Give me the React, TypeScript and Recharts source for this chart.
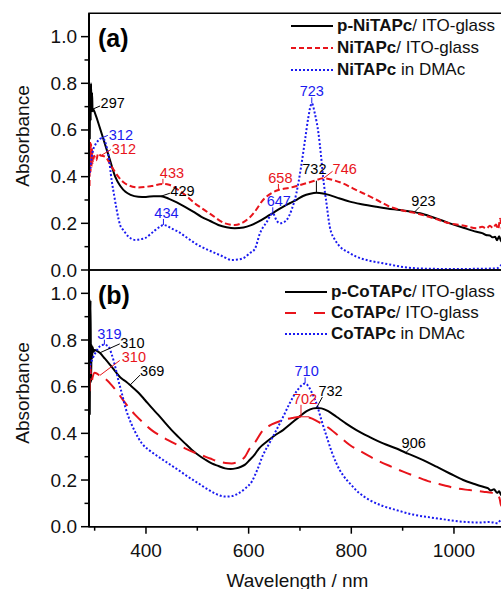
import React from 'react'
import { LineChart, Line, XAxis, YAxis, ReferenceArea, ReferenceDot } from 'recharts'

const FONT = '"Liberation Sans", Arial, Helvetica, sans-serif'
const RED = '#e8141b'
const BLUE = '#1a1af0'

const X_DOMAIN: [number, number] = [289, 1100]
const Y_DOMAIN: [number, number] = [0, 1.1]
const xTicks = [300, 400, 500, 600, 700, 800, 900, 1000, 1100]
const xTickLabels = [400, 600, 800, 1000]
const yTicks = [0, 0.1, 0.2, 0.3, 0.4, 0.5, 0.6, 0.7, 0.8, 0.9, 1.0]
const yTickLabels = [0, 0.2, 0.4, 0.6, 0.8, 1.0]

// [wavelength nm, absorbance]
const pNiTAPcFilm = [
  [290.5, 0.56], [291.5, 0.79], [292.3, 0.64], [293, 0.8], [294, 0.68], [295, 0.76], [296, 0.68], [297, 0.69],
  [301, 0.67], [310, 0.61], [320, 0.54], [330, 0.47], [340, 0.4], [350, 0.36], [360, 0.335], [370, 0.322],
  [385, 0.314], [400, 0.313], [415, 0.316], [429, 0.316], [445, 0.305], [460, 0.29], [476, 0.271],
  [492, 0.25], [508, 0.228], [525, 0.21], [541, 0.193], [557, 0.183], [573, 0.179], [590, 0.182],
  [605, 0.192], [620, 0.208], [641, 0.236], [660, 0.262], [680, 0.286], [695, 0.303], [706, 0.317],
  [720, 0.327], [732, 0.331], [745, 0.328], [758, 0.321], [775, 0.308], [797, 0.293], [820, 0.282],
  [849, 0.271], [870, 0.264], [895, 0.257], [923, 0.248], [934, 0.243], [960, 0.225], [992, 0.2],
  [1020, 0.18], [1044, 0.164], [1055, 0.158], [1062, 0.15], [1070, 0.148], [1075, 0.14], [1080, 0.142],
  [1084, 0.128], [1088, 0.145], [1092, 0.122], [1096, 0.14], [1100, 0.13],
]
const niTAPcFilm = [
  [290, 0.36], [291, 0.55], [292, 0.42], [293, 0.54], [294, 0.44], [295, 0.52], [296.5, 0.46], [299, 0.49],
  [303, 0.47], [307, 0.5], [312, 0.49], [320, 0.486], [333, 0.443], [346, 0.4], [355, 0.378], [365, 0.364],
  [385, 0.354], [411, 0.36], [433, 0.369], [445, 0.365], [463, 0.343], [480, 0.315], [495, 0.286],
  [512, 0.26], [528, 0.236], [554, 0.2], [573, 0.193], [590, 0.205], [602, 0.225], [612, 0.25],
  [628, 0.3], [645, 0.33], [658, 0.343], [680, 0.352], [700, 0.364], [725, 0.38], [746, 0.393],
  [765, 0.385], [784, 0.371], [803, 0.35], [823, 0.329], [850, 0.3], [875, 0.271], [900, 0.255],
  [927, 0.243], [960, 0.222], [992, 0.2], [1020, 0.19], [1044, 0.179], [1055, 0.185], [1063, 0.178],
  [1070, 0.19], [1076, 0.18], [1082, 0.195], [1086, 0.175], [1090, 0.22], [1094, 0.17], [1098, 0.2],
  [1100, 0.18],
]
const niTAPcSol = [
  [289, 0.4], [291, 0.43], [294, 0.48], [297, 0.514], [302, 0.54], [307, 0.555], [312, 0.564], [318, 0.56],
  [323, 0.53], [327, 0.49], [333, 0.386], [338, 0.32], [343, 0.257], [350, 0.19], [356, 0.171],
  [365, 0.145], [379, 0.129], [390, 0.132], [398, 0.136], [408, 0.152], [418, 0.171], [427, 0.185],
  [434, 0.193], [440, 0.19], [450, 0.178], [463, 0.164], [480, 0.138], [496, 0.114], [512, 0.095],
  [528, 0.079], [548, 0.06], [567, 0.043], [580, 0.045], [593, 0.055], [602, 0.072], [612, 0.09],
  [622, 0.157], [635, 0.205], [647, 0.243], [655, 0.21], [661, 0.2], [668, 0.204], [674, 0.214],
  [684, 0.26], [693, 0.329], [702, 0.44], [710, 0.56], [716, 0.65], [723, 0.714], [729, 0.67],
  [736, 0.586], [741, 0.49], [745, 0.4], [752, 0.28], [758, 0.186], [768, 0.13], [778, 0.1], [795, 0.075],
  [810, 0.057], [835, 0.04], [862, 0.029], [895, 0.015], [927, 0.007], [960, 0.005], [1000, 0.004],
  [1040, 0.005], [1070, 0.006], [1085, 0.008], [1092, 0.02], [1096, 0.01], [1100, 0.02],
]
const pCoTAPcFilm = [
  [290.5, 0.48], [292, 0.97], [293, 0.62], [294, 0.78], [295, 0.72], [296, 0.77], [298, 0.75],
  [300, 0.757], [310, 0.745], [320, 0.72], [333, 0.686], [352, 0.636], [362, 0.62], [369, 0.607],
  [385, 0.575], [398, 0.543], [411, 0.51], [424, 0.479], [437, 0.446], [450, 0.414], [463, 0.385],
  [476, 0.357], [489, 0.33], [502, 0.307], [515, 0.288], [528, 0.271], [541, 0.26], [554, 0.25],
  [565, 0.247], [575, 0.25], [585, 0.257], [593, 0.266], [602, 0.286], [612, 0.31], [620, 0.335],
  [635, 0.364], [650, 0.39], [667, 0.414], [683, 0.443], [700, 0.474], [713, 0.495], [726, 0.507],
  [734, 0.509], [742, 0.507], [755, 0.495], [771, 0.471], [790, 0.442], [810, 0.414], [835, 0.385],
  [862, 0.357], [888, 0.335], [906, 0.317], [914, 0.31], [940, 0.285], [966, 0.257], [992, 0.228],
  [1018, 0.2], [1040, 0.183], [1057, 0.171], [1066, 0.165], [1072, 0.155], [1078, 0.16], [1084, 0.145],
  [1088, 0.152], [1092, 0.135], [1096, 0.145], [1100, 0.13],
]
const coTAPcFilm = [
  [290, 0.58], [291, 0.69], [292, 0.67], [293, 0.64], [294.5, 0.625], [296, 0.64], [300, 0.66], [305, 0.655],
  [310, 0.648], [320, 0.635], [333, 0.607], [343, 0.58], [353, 0.55], [365, 0.515], [379, 0.479],
  [395, 0.445], [411, 0.414], [428, 0.39], [443, 0.371], [460, 0.352], [476, 0.336], [492, 0.32],
  [508, 0.307], [525, 0.292], [541, 0.279], [555, 0.273], [567, 0.271], [580, 0.28], [593, 0.3],
  [602, 0.335], [612, 0.36], [628, 0.414], [645, 0.438], [667, 0.457], [685, 0.466], [702, 0.471],
  [719, 0.467], [735, 0.45], [752, 0.429], [775, 0.39], [797, 0.35], [822, 0.318], [849, 0.286],
  [875, 0.26], [901, 0.236], [927, 0.214], [953, 0.193], [980, 0.178], [1005, 0.164], [1030, 0.157],
  [1057, 0.15], [1075, 0.145], [1085, 0.14], [1089, 0.12], [1092, 0.09], [1096, 0.14], [1100, 0.12],
]
const coTAPcSol = [
  [289, 0.64], [291, 0.686], [296, 0.72], [301, 0.743], [307, 0.765], [314, 0.779], [319, 0.78],
  [327, 0.771], [333, 0.74], [340, 0.686], [347, 0.62], [353, 0.571], [360, 0.51], [366, 0.471],
  [378, 0.41], [392, 0.357], [408, 0.325], [424, 0.3], [443, 0.272], [463, 0.243], [482, 0.214],
  [502, 0.186], [518, 0.163], [534, 0.143], [554, 0.129], [567, 0.131], [580, 0.143], [593, 0.163],
  [606, 0.193], [617, 0.245], [628, 0.307], [641, 0.36], [654, 0.414], [667, 0.47], [680, 0.529],
  [695, 0.585], [704, 0.607], [710, 0.614], [717, 0.6], [724, 0.57], [732, 0.529], [742, 0.455],
  [752, 0.386], [762, 0.32], [771, 0.271], [784, 0.22], [797, 0.186], [815, 0.145], [836, 0.114],
  [860, 0.09], [888, 0.071], [920, 0.052], [953, 0.04], [985, 0.03], [1018, 0.021], [1050, 0.018],
  [1070, 0.02], [1085, 0.015], [1092, 0.03], [1096, 0.02], [1100, 0.025],
]

// labelled band maxima (nm)
const pNiPeaks = [297, 429, 732, 923]
const niFilmPeaks = [312, 433, 658, 746]
const niSolPeaks = [312, 434, 647, 723]
const pCoPeaks = [310, 369, 732, 906]
const coFilmPeaks = [310, 702]
const coSolPeaks = [319, 710]

type Callout = { l: [number, number]; t: [number, number]; a: 'start' | 'middle'; foot?: number }

// leader end (l) and text position (t) relative to the band point, px
const pNiCallouts: Callout[] = [
  { l: [7, -3], t: [7.5, -6], a: 'start' },
  { l: [9, -3], t: [9.5, -5.5], a: 'start' },
  { l: [0, -12], t: [-2, -24], a: 'middle' },
  { l: [5, -5], t: [9, -11], a: 'middle' },
]
const niFilmCallouts: Callout[] = [
  { l: [10, -6], t: [11, -7], a: 'start' },
  { l: [0, -5], t: [9, -11], a: 'middle' },
  { l: [0, -6], t: [2, -12], a: 'middle' },
  { l: [9, -7], t: [9, -9], a: 'start' },
]
const niSolCallouts: Callout[] = [
  { l: [7, -3], t: [8, -3], a: 'start' },
  { l: [0, -6], t: [3, -12], a: 'middle' },
  { l: [0, -6], t: [6, -12], a: 'middle' },
  { l: [0, -6], t: [0, -12], a: 'middle' },
]
const pCoCallouts: Callout[] = [
  { l: [20, -9], t: [20.5, -10], a: 'start' },
  { l: [10, -10], t: [10, -14], a: 'start' },
  { l: [6, -11], t: [2, -17], a: 'start' },
  { l: [5, -5], t: [8, -10], a: 'middle' },
]
const coFilmCallouts: Callout[] = [
  { l: [20, -15], t: [22, -18], a: 'start' },
  { l: [0, -12], t: [4, -18], a: 'middle', foot: 8 },
]
const coSolCallouts: Callout[] = [
  { l: [0, -5], t: [5, -10.6], a: 'middle' },
  { l: [0, -6], t: [1.5, -12.4], a: 'middle' },
]

type Series = {
  key: string
  bold: string
  rest: string
  pts: number[][]
  color: string
  dash?: string
  legendDash?: string
  peaks: number[]
  callouts: Callout[]
}

const niSeries: Series[] = [
  { key: 'pNi', bold: 'p-NiTAPc', rest: '/ ITO-glass', pts: pNiTAPcFilm, color: '#000', peaks: pNiPeaks, callouts: pNiCallouts },
  { key: 'niFilm', bold: 'NiTAPc', rest: '/ ITO-glass', pts: niTAPcFilm, color: RED, dash: '6 3', legendDash: '5 3', peaks: niFilmPeaks, callouts: niFilmCallouts },
  { key: 'niSol', bold: 'NiTAPc', rest: ' in DMAc', pts: niTAPcSol, color: BLUE, dash: '2 2', legendDash: '2 2', peaks: niSolPeaks, callouts: niSolCallouts },
]
const coSeries: Series[] = [
  { key: 'pCo', bold: 'p-CoTAPc', rest: '/ ITO-glass', pts: pCoTAPcFilm, color: '#000', peaks: pCoPeaks, callouts: pCoCallouts },
  { key: 'coFilm', bold: 'CoTAPc', rest: '/ ITO-glass', pts: coTAPcFilm, color: RED, dash: '13 8', legendDash: '11 18', peaks: coFilmPeaks, callouts: coFilmCallouts },
  { key: 'coSol', bold: 'CoTAPc', rest: ' in DMAc', pts: coTAPcSol, color: BLUE, dash: '2 2', legendDash: '2 2', peaks: coSolPeaks, callouts: coSolCallouts },
]

const toPoints = (a: number[][]) => a.map(([x, y]) => ({ x, y }))

// absorbance on the curve at a given wavelength
function absAt(pts: number[][], nm: number) {
  for (let i = 1; i < pts.length; i++) {
    const [x0, y0] = pts[i - 1]
    const [x1, y1] = pts[i]
    if (nm <= x1) return y0 + ((y1 - y0) * (nm - x0)) / (x1 - x0)
  }
  return pts[pts.length - 1][1]
}

function CalloutMark({ cx, cy, text, color, c }: { cx: number; cy: number; text: string; color: string; c: Callout }) {
  const [lx, ly] = c.l
  const points = c.foot
    ? `${cx + lx},${cy + ly} ${cx},${cy} ${cx + c.foot},${cy}`
    : `${cx},${cy} ${cx + lx},${cy + ly}`
  return (
    <g>
      <polyline points={points} fill="none" stroke={color} strokeWidth={1} />
      <text x={cx + c.t[0]} y={cy + c.t[1]} textAnchor={c.a} dominantBaseline="central"
        fontSize={14.5} fontFamily={FONT} fill={color}>{text}</text>
    </g>
  )
}

const renderYTick = (p: any) => {
  const v = p.payload.value
  const major = yTickLabels.includes(Math.round(v * 10) / 10)
  return (
    <g>
      <line x1={p.x - (major ? 8 : 4.5)} x2={p.x} y1={p.y} y2={p.y} stroke="#000" strokeWidth={1.5} />
      {major && (
        <text x={p.x - 12} y={p.y} textAnchor="end" dominantBaseline="central" fontSize={19}
          fontFamily={FONT} fill="#111">{v.toFixed(1)}</text>
      )}
    </g>
  )
}

const renderXTick = (p: any) => {
  const v = p.payload.value
  const major = xTickLabels.includes(v)
  return (
    <g>
      <line x1={p.x} x2={p.x} y1={p.y} y2={p.y + (major ? 7 : 4)} stroke="#000" strokeWidth={1.5} />
      {major && (
        <text x={p.x} y={p.y + 23.3} textAnchor="middle" dominantBaseline="central" fontSize={19}
          fontFamily={FONT} fill="#111">{v}</text>
      )}
    </g>
  )
}

function SideTitles({ cy, tag, tagY }: { cy: number; tag: string; tagY: number }) {
  return (
    <g fontFamily={FONT}>
      <text x={22} y={cy} transform={`rotate(-90 22 ${cy})`} textAnchor="middle" dominantBaseline="central"
        fontSize={19} fill="#111">Absorbance</text>
      <text x={98} y={tagY} fontSize={25} fontWeight="bold" fill="#000">{tag}</text>
    </g>
  )
}

function XTitle() {
  return (
    <text x={297.5} y={320.5} textAnchor="middle" dominantBaseline="central" fontSize={19}
      fontFamily={FONT} fill="#111">Wavelength / nm</text>
  )
}

function Panel({ series, height, margin, tag, titleY, tagY, showX }: {
  series: Series[]; height: number; margin: any; tag: string; titleY: number; tagY: number; showX: boolean
}) {
  return (
    <LineChart width={510} height={height} margin={margin}>
      <XAxis type="number" dataKey="x" domain={X_DOMAIN} allowDataOverflow hide={!showX} ticks={xTicks}
        interval={0} height={62.3} tickSize={0} tickMargin={0} tickLine={false}
        axisLine={{ stroke: '#000', strokeWidth: 1.5 }} tick={renderXTick} label={<XTitle />} />
      <YAxis type="number" domain={Y_DOMAIN} ticks={yTicks} interval={0} width={89} tickSize={0}
        tickMargin={0} tickLine={false} axisLine={{ stroke: '#000', strokeWidth: 2 }} tick={renderYTick}
        label={<SideTitles cy={titleY} tag={tag} tagY={tagY} />} />
      <ReferenceArea x1={X_DOMAIN[0]} x2={X_DOMAIN[1]} y1={Y_DOMAIN[0]} y2={Y_DOMAIN[1]}
        fill="none" fillOpacity={0} stroke="#000" strokeWidth={1.5} />
      {series.map(s => (
        <Line key={s.key} data={toPoints(s.pts)} dataKey="y" type="monotone" stroke={s.color}
          strokeWidth={2} strokeDasharray={s.dash} dot={false} activeDot={false}
          isAnimationActive={false} />
      ))}
      {series.flatMap(s =>
        s.peaks.map((nm, i) => (
          <ReferenceDot key={`${s.key}-${nm}`} x={nm} y={absAt(s.pts, nm)} r={0}
            shape={(p: any) => <CalloutMark cx={p.cx} cy={p.cy} text={String(nm)} color={s.color} c={s.callouts[i]} />} />
        ))
      )}
    </LineChart>
  )
}

function Legend({ series, left, top, rowH, lineW }: { series: Series[]; left: number; top: number; rowH: number; lineW: number }) {
  return (
    <div style={{ position: 'absolute', left, top, fontFamily: FONT, fontSize: 17, color: '#111' }}>
      {series.map(s => (
        <div key={s.key} style={{ display: 'flex', alignItems: 'center', height: rowH, whiteSpace: 'nowrap' }}>
          <svg width={lineW} height={6} style={{ marginRight: 4 }}>
            <line x1={0} x2={lineW} y1={3} y2={3} stroke={s.color} strokeWidth={2} strokeDasharray={s.legendDash} />
          </svg>
          <span><b>{s.bold}</b>{s.rest}</span>
        </div>
      ))}
    </div>
  )
}

export default function App() {
  return (
    <div style={{ position: 'absolute', left: 0, top: 0, width: 501, height: 589, overflow: 'hidden', background: '#fff' }}>
      <div style={{ position: 'absolute', left: 0, top: 0 }}>
        <Panel series={niSeries} height={280} margin={{ top: 13.3, right: 4.7, bottom: 10, left: 0 }}
          tag="(a)" titleY={136} tagY={47.3} showX={false} />
      </div>
      <div style={{ position: 'absolute', left: 0, top: 260 }}>
        <Panel series={coSeries} height={329} margin={{ top: 10, right: 4.7, bottom: 0, left: 0 }}
          tag="(b)" titleY={133} tagY={44} showX />
      </div>
      <Legend series={niSeries} left={291} top={14.5} rowH={22.3} lineW={42} />
      <Legend series={coSeries} left={285} top={281} rowH={21.2} lineW={42} />
    </div>
  )
}
